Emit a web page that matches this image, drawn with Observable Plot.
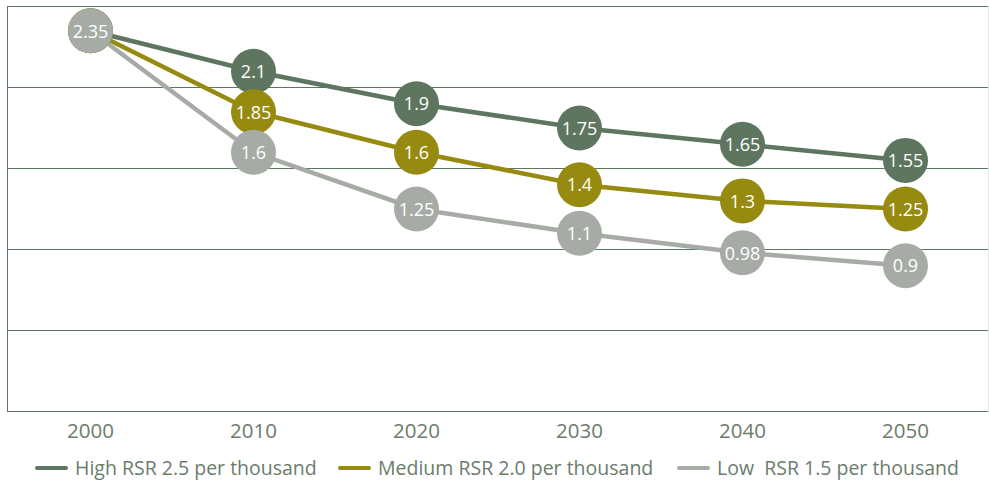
<!DOCTYPE html>
<html><head><meta charset="utf-8">
<script src="https://cdn.jsdelivr.net/npm/d3@7"></script>
<script src="https://cdn.jsdelivr.net/npm/@observablehq/plot@0.6"></script>
<style>
body{margin:0;background:#fff;font-family:"Open Sans",sans-serif;}
#legend{position:relative;height:39px;width:989px;}
.item{position:absolute;top:0;height:39px;display:flex;align-items:center;white-space:pre;font-size:19.5px;color:#6b7c6b;}
.sw{display:inline-block;width:33px;height:4px;border-radius:2px;margin-right:7px;}
</style></head><body><div id="chart"></div><div id="legend"></div>
<script>
const years = [2000, 2010, 2020, 2030, 2040, 2050];
const seriesNames = ["High RSR 2.5 per thousand", "Medium RSR 2.0 per thousand", "Low  RSR 1.5 per thousand"];
const high = [2.35, 2.1, 1.9, 1.75, 1.65, 1.55];
const medium = [2.35, 1.85, 1.6, 1.4, 1.3, 1.25];
const low = [2.35, 1.6, 1.25, 1.1, 0.98, 0.9];
const colors = ["#5e7560", "#968b10", "#a6aca5"];
const yTicks = [0, 0.5, 1, 1.5, 2, 2.5];

const seriesValues = [high, medium, low];
const rows = seriesValues.flatMap((vals, i) => vals.map((v, j) => ({series: seriesNames[i], year: years[j], value: v})));

const dotMarks = seriesNames.flatMap((name, i) => {
  const data = rows.filter(d => d.series === name);
  return [
    Plot.dot(data, {x: "year", y: "value", r: 22.5, fill: colors[i], stroke: "none"}),
    Plot.text(data, {x: "year", y: "value", text: d => String(d.value), fill: "white", fontSize: 18, dy: 1, letterSpacing: "-0.3px"})
  ];
});

const chart = Plot.plot({
  width: 989, height: 448,
  marginLeft: 7, marginRight: 1, marginTop: 6, marginBottom: 37,
  style: {fontFamily: '"Open Sans", sans-serif', background: "white"},
  x: {type: "point", domain: years, padding: 0.5, axis: null},
  y: {domain: [0, 2.5], axis: null},
  color: {domain: seriesNames, range: colors},
  marks: [
    Plot.ruleY(yTicks, {stroke: "#5e7560", strokeWidth: 1}),
    Plot.frame({anchor: "left", stroke: "#5e7560"}),
    Plot.frame({anchor: "right", stroke: "#e4e6e4"}),
    Plot.axisX({tickSize: 0, tickPadding: 12, fontSize: 20.5, fill: "#6b7c6b", tickFormat: d => `${d}`, label: null}),
    Plot.line(rows, {x: "year", y: "value", z: "series", stroke: "series", strokeWidth: 4.5}),
    ...dotMarks
  ]
});
document.getElementById("chart").appendChild(chart);

const legendLefts = [35, 338, 677];
const legend = document.getElementById("legend");
seriesNames.forEach((name, i) => {
  const it = document.createElement("div");
  it.className = "item";
  it.style.left = legendLefts[i] + "px";
  const sw = document.createElement("span");
  sw.className = "sw";
  sw.style.background = colors[i];
  it.appendChild(sw);
  it.appendChild(document.createTextNode(name));
  legend.appendChild(it);
});
</script></body></html>
